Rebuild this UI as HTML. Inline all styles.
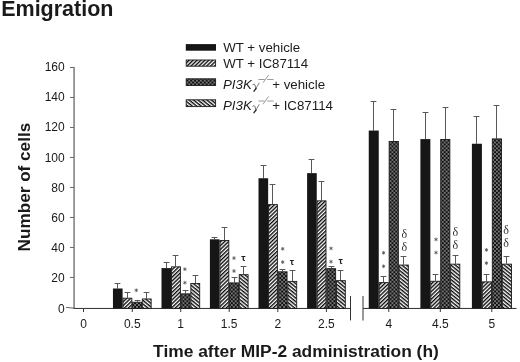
<!DOCTYPE html>
<html><head><meta charset="utf-8"><title>Emigration</title>
<style>
html,body{margin:0;padding:0;background:#fff;}
body{width:520px;height:362px;overflow:hidden;font-family:"Liberation Sans",sans-serif;}
svg{display:block;will-change:transform}
text{font-family:"Liberation Sans",sans-serif;fill:#1a1a1a}
.tk{font-size:12px;fill:#1a1a1a}
.lg{font-size:13.3px;fill:#1c1c1c}
.st{font-size:9px;fill:#666;text-anchor:middle}
.dl{font-family:"Liberation Serif",serif;font-size:12px;fill:#333;text-anchor:middle}
.ta{font-size:9.6px;font-weight:bold;fill:#222;text-anchor:middle}
</style></head><body>
<svg width="520" height="362" viewBox="0 0 520 362">
<defs>
<pattern id="h2" width="2.72" height="2.72" patternUnits="userSpaceOnUse" patternTransform="rotate(-44)">
<rect width="2.72" height="2.72" fill="#fff"/><rect y="0" width="2.72" height="1.38" fill="#080808"/></pattern>
<pattern id="h4" width="2.8" height="2.8" patternUnits="userSpaceOnUse" patternTransform="rotate(39)">
<rect width="2.8" height="2.8" fill="#fff"/><rect y="0" width="2.8" height="1.4" fill="#080808"/></pattern>
<pattern id="h3" width="3.87" height="3.87" patternUnits="userSpaceOnUse" x="0.6" y="0.3">
<rect width="3.87" height="3.87" fill="#101010"/><rect x="0" y="0" width="1.93" height="1.93" fill="#747474"/><rect x="1.935" y="1.935" width="1.935" height="1.935" fill="#747474"/></pattern>
<g id="as" stroke="#555" stroke-width="0.85" stroke-linecap="round"><path d="M0-1.45V1.45M-1.25-0.72L1.25 0.72M-1.25 0.72L1.25-0.72"/></g>
</defs>
<rect width="520" height="362" fill="#fff"/>

<text x="1.2" y="15.7" font-size="21.5px" font-weight="bold" fill="#111">Emigration</text>
<text transform="translate(30.4,251.4) rotate(-90)" font-size="17.15px" font-weight="bold" fill="#111">Number of cells</text>
<text x="153.1" y="356.8" font-size="17.4px" font-weight="bold" fill="#111">Time after MIP-2 administration (h)</text>
<line x1="74.05" y1="67" x2="74.05" y2="308.5" stroke="#3a3a3a" stroke-width="1"/>
<line x1="73.5" y1="308.45" x2="350.5" y2="308.45" stroke="#2e2e2e" stroke-width="1"/>
<line x1="66" y1="307.4" x2="75" y2="308.25" stroke="#555" stroke-width="0.9"/>
<line x1="363" y1="308.45" x2="516.5" y2="308.45" stroke="#2e2e2e" stroke-width="1"/>
<line x1="350.5" y1="296" x2="350.5" y2="320.4" stroke="#333" stroke-width="1"/>
<line x1="363" y1="296" x2="363" y2="320.4" stroke="#444" stroke-width="1.1"/>
<text class="tk" x="64.7" y="312.50" text-anchor="end">0</text>
<line x1="70" y1="277.45" x2="74" y2="277.45" stroke="#666" stroke-width="1"/>
<text class="tk" x="64.7" y="282.30" text-anchor="end">20</text>
<line x1="70" y1="247.45" x2="74" y2="247.45" stroke="#666" stroke-width="1"/>
<text class="tk" x="64.7" y="252.10" text-anchor="end">40</text>
<line x1="70" y1="217.45" x2="74" y2="217.45" stroke="#666" stroke-width="1"/>
<text class="tk" x="64.7" y="221.90" text-anchor="end">60</text>
<line x1="70" y1="187.45" x2="74" y2="187.45" stroke="#666" stroke-width="1"/>
<text class="tk" x="64.7" y="191.70" text-anchor="end">80</text>
<line x1="70" y1="157.45" x2="74" y2="157.45" stroke="#666" stroke-width="1"/>
<text class="tk" x="64.7" y="161.50" text-anchor="end">100</text>
<line x1="70" y1="127.45" x2="74" y2="127.45" stroke="#666" stroke-width="1"/>
<text class="tk" x="64.7" y="131.30" text-anchor="end">120</text>
<line x1="70" y1="97.45" x2="74" y2="97.45" stroke="#666" stroke-width="1"/>
<text class="tk" x="64.7" y="101.10" text-anchor="end">140</text>
<line x1="70" y1="67.45" x2="74" y2="67.45" stroke="#666" stroke-width="1"/>
<text class="tk" x="64.7" y="70.90" text-anchor="end">160</text>
<line x1="83.5" y1="308" x2="83.5" y2="312" stroke="#3a3a3a" stroke-width="1"/>
<text class="tk" x="83.5" y="328.2" text-anchor="middle">0</text>
<line x1="132.25" y1="308" x2="132.25" y2="312" stroke="#3a3a3a" stroke-width="1"/>
<text class="tk" x="132.25" y="328.2" text-anchor="middle">0.5</text>
<line x1="180.7" y1="308" x2="180.7" y2="312" stroke="#3a3a3a" stroke-width="1"/>
<text class="tk" x="180.7" y="328.2" text-anchor="middle">1</text>
<line x1="229.2" y1="308" x2="229.2" y2="312" stroke="#3a3a3a" stroke-width="1"/>
<text class="tk" x="229.2" y="328.2" text-anchor="middle">1.5</text>
<line x1="277.8" y1="308" x2="277.8" y2="312" stroke="#3a3a3a" stroke-width="1"/>
<text class="tk" x="277.8" y="328.2" text-anchor="middle">2</text>
<line x1="326.4" y1="308" x2="326.4" y2="312" stroke="#3a3a3a" stroke-width="1"/>
<text class="tk" x="326.4" y="328.2" text-anchor="middle">2.5</text>
<line x1="388.8" y1="308" x2="388.8" y2="312" stroke="#3a3a3a" stroke-width="1"/>
<text class="tk" x="388.8" y="328.2" text-anchor="middle">4</text>
<line x1="440.3" y1="308" x2="440.3" y2="312" stroke="#3a3a3a" stroke-width="1"/>
<text class="tk" x="440.3" y="328.2" text-anchor="middle">4.5</text>
<line x1="491.8" y1="308" x2="491.8" y2="312" stroke="#3a3a3a" stroke-width="1"/>
<text class="tk" x="491.8" y="328.2" text-anchor="middle">5</text>
<path d="M117.50 288.50V283.50M114.60 283.50H120.40" stroke="#585858" stroke-width="1" fill="none"/>
<rect x="112.95" y="288.50" width="9.65" height="20.00" fill="#161616"/>
<path d="M127.50 297.80V292.50M124.60 292.50H130.40" stroke="#585858" stroke-width="1" fill="none"/>
<rect x="123.00" y="298.20" width="8.85" height="10.20" fill="url(#h2)" stroke="#1a1a1a" stroke-width="0.9"/>
<path d="M137.50 301.85V300.50M134.60 300.50H140.40" stroke="#585858" stroke-width="1" fill="none"/>
<rect x="132.65" y="302.25" width="8.85" height="6.15" fill="url(#h3)" stroke="#1a1a1a" stroke-width="0.9"/>
<path d="M146.50 298.55V292.50M143.60 292.50H149.40" stroke="#585858" stroke-width="1" fill="none"/>
<rect x="142.30" y="298.95" width="8.85" height="9.45" fill="url(#h4)" stroke="#1a1a1a" stroke-width="0.9"/>
<path d="M166.50 268.10V262.50M163.60 262.50H169.40" stroke="#585858" stroke-width="1" fill="none"/>
<rect x="161.50" y="268.10" width="9.65" height="40.40" fill="#161616"/>
<path d="M175.50 266.45V255.50M172.60 255.50H178.40" stroke="#585858" stroke-width="1" fill="none"/>
<rect x="171.55" y="266.85" width="8.85" height="41.55" fill="url(#h2)" stroke="#1a1a1a" stroke-width="0.9"/>
<path d="M185.50 293.45V290.50M182.60 290.50H188.40" stroke="#585858" stroke-width="1" fill="none"/>
<rect x="181.20" y="293.85" width="8.85" height="14.55" fill="url(#h3)" stroke="#1a1a1a" stroke-width="0.9"/>
<path d="M195.50 283.10V275.50M192.60 275.50H198.40" stroke="#585858" stroke-width="1" fill="none"/>
<rect x="190.85" y="283.50" width="8.85" height="24.90" fill="url(#h4)" stroke="#1a1a1a" stroke-width="0.9"/>
<path d="M214.50 239.30V237.50M211.60 237.50H217.40" stroke="#585858" stroke-width="1" fill="none"/>
<rect x="209.90" y="239.30" width="9.65" height="69.20" fill="#161616"/>
<path d="M224.50 240.05V227.50M221.60 227.50H227.40" stroke="#585858" stroke-width="1" fill="none"/>
<rect x="219.95" y="240.45" width="8.85" height="67.95" fill="url(#h2)" stroke="#1a1a1a" stroke-width="0.9"/>
<path d="M234.50 282.50V277.50M231.60 277.50H237.40" stroke="#585858" stroke-width="1" fill="none"/>
<rect x="229.60" y="282.90" width="8.85" height="25.50" fill="url(#h3)" stroke="#1a1a1a" stroke-width="0.9"/>
<path d="M243.50 274.25V266.50M240.60 266.50H246.40" stroke="#585858" stroke-width="1" fill="none"/>
<rect x="239.25" y="274.65" width="8.85" height="33.75" fill="url(#h4)" stroke="#1a1a1a" stroke-width="0.9"/>
<path d="M263.50 178.25V165.50M260.60 165.50H266.40" stroke="#585858" stroke-width="1" fill="none"/>
<rect x="258.50" y="178.25" width="9.65" height="130.25" fill="#161616"/>
<path d="M272.50 204.20V184.50M269.60 184.50H275.40" stroke="#585858" stroke-width="1" fill="none"/>
<rect x="268.55" y="204.60" width="8.85" height="103.80" fill="url(#h2)" stroke="#1a1a1a" stroke-width="0.9"/>
<path d="M282.50 271.40V269.50M279.60 269.50H285.40" stroke="#585858" stroke-width="1" fill="none"/>
<rect x="278.20" y="271.80" width="8.85" height="36.60" fill="url(#h3)" stroke="#1a1a1a" stroke-width="0.9"/>
<path d="M292.50 281.00V270.50M289.60 270.50H295.40" stroke="#585858" stroke-width="1" fill="none"/>
<rect x="287.85" y="281.40" width="8.85" height="27.00" fill="url(#h4)" stroke="#1a1a1a" stroke-width="0.9"/>
<path d="M311.50 173.15V159.50M308.60 159.50H314.40" stroke="#585858" stroke-width="1" fill="none"/>
<rect x="307.10" y="173.15" width="9.65" height="135.35" fill="#161616"/>
<path d="M321.50 200.45V181.50M318.60 181.50H324.40" stroke="#585858" stroke-width="1" fill="none"/>
<rect x="317.15" y="200.85" width="8.85" height="107.55" fill="url(#h2)" stroke="#1a1a1a" stroke-width="0.9"/>
<path d="M331.50 268.25V266.50M328.60 266.50H334.40" stroke="#585858" stroke-width="1" fill="none"/>
<rect x="326.80" y="268.65" width="8.85" height="39.75" fill="url(#h3)" stroke="#1a1a1a" stroke-width="0.9"/>
<path d="M340.50 280.25V270.50M337.60 270.50H343.40" stroke="#585858" stroke-width="1" fill="none"/>
<rect x="336.45" y="280.65" width="8.85" height="27.75" fill="url(#h4)" stroke="#1a1a1a" stroke-width="0.9"/>
<path d="M373.50 130.55V101.50M370.60 101.50H376.40" stroke="#585858" stroke-width="1" fill="none"/>
<rect x="368.75" y="130.55" width="10.00" height="177.95" fill="#161616"/>
<path d="M383.50 282.20V276.50M380.60 276.50H386.40" stroke="#585858" stroke-width="1" fill="none"/>
<rect x="379.15" y="282.60" width="9.20" height="25.80" fill="url(#h2)" stroke="#1a1a1a" stroke-width="0.9"/>
<path d="M393.50 141.05V109.50M390.60 109.50H396.40" stroke="#585858" stroke-width="1" fill="none"/>
<rect x="389.15" y="141.45" width="9.20" height="166.95" fill="url(#h3)" stroke="#1a1a1a" stroke-width="0.9"/>
<path d="M403.50 264.65V256.50M400.60 256.50H406.40" stroke="#585858" stroke-width="1" fill="none"/>
<rect x="399.15" y="265.05" width="9.20" height="43.35" fill="url(#h4)" stroke="#1a1a1a" stroke-width="0.9"/>
<path d="M425.50 139.10V112.50M422.60 112.50H428.40" stroke="#585858" stroke-width="1" fill="none"/>
<rect x="420.40" y="139.10" width="9.95" height="169.40" fill="#161616"/>
<path d="M435.50 280.85V274.50M432.60 274.50H438.40" stroke="#585858" stroke-width="1" fill="none"/>
<rect x="430.75" y="281.25" width="9.15" height="27.15" fill="url(#h2)" stroke="#1a1a1a" stroke-width="0.9"/>
<path d="M445.50 139.10V107.50M442.60 107.50H448.40" stroke="#585858" stroke-width="1" fill="none"/>
<rect x="440.70" y="139.50" width="9.15" height="168.90" fill="url(#h3)" stroke="#1a1a1a" stroke-width="0.9"/>
<path d="M455.50 263.75V255.50M452.60 255.50H458.40" stroke="#585858" stroke-width="1" fill="none"/>
<rect x="450.65" y="264.15" width="9.15" height="44.25" fill="url(#h4)" stroke="#1a1a1a" stroke-width="0.9"/>
<path d="M476.50 143.75V116.50M473.60 116.50H479.40" stroke="#585858" stroke-width="1" fill="none"/>
<rect x="471.90" y="143.75" width="10.00" height="164.75" fill="#161616"/>
<path d="M486.50 281.45V274.50M483.60 274.50H489.40" stroke="#585858" stroke-width="1" fill="none"/>
<rect x="482.30" y="281.85" width="9.20" height="26.55" fill="url(#h2)" stroke="#1a1a1a" stroke-width="0.9"/>
<path d="M496.50 138.50V105.50M493.60 105.50H499.40" stroke="#585858" stroke-width="1" fill="none"/>
<rect x="492.30" y="138.90" width="9.20" height="169.50" fill="url(#h3)" stroke="#1a1a1a" stroke-width="0.9"/>
<path d="M506.50 263.75V256.50M503.60 256.50H509.40" stroke="#585858" stroke-width="1" fill="none"/>
<rect x="502.30" y="264.15" width="9.20" height="44.25" fill="url(#h4)" stroke="#1a1a1a" stroke-width="0.9"/>
<use href="#as" x="136.3" y="290.3"/>
<use href="#as" x="184.9" y="269.2"/>
<use href="#as" x="184.9" y="282.7"/>
<use href="#as" x="234" y="258.1"/>
<use href="#as" x="234" y="271"/>
<use href="#as" x="282.7" y="248.8"/>
<use href="#as" x="282.7" y="262.1"/>
<use href="#as" x="331" y="248.4"/>
<use href="#as" x="331" y="261.7"/>
<use href="#as" x="383.6" y="252.8"/>
<use href="#as" x="383.6" y="266.3"/>
<use href="#as" x="436" y="239.4"/>
<use href="#as" x="436" y="252.6"/>
<use href="#as" x="486.4" y="249.9"/>
<use href="#as" x="486.4" y="263.1"/>
<text class="ta" x="243.3" y="260.6">&#964;</text>
<text class="ta" x="292" y="264.6">&#964;</text>
<text class="ta" x="340.7" y="264.3">&#964;</text>
<text class="dl" x="404.3" y="237.5">&#948;</text>
<text class="dl" x="404.3" y="250.5">&#948;</text>
<text class="dl" x="455.4" y="236.2">&#948;</text>
<text class="dl" x="455.4" y="248.8">&#948;</text>
<text class="dl" x="506" y="234.0">&#948;</text>
<text class="dl" x="506" y="246.6">&#948;</text>
<rect x="185.8" y="44.1" width="30.2" height="6.6" fill="#161616"/>
<rect x="186.2" y="60.0" width="29.4" height="6.2" fill="url(#h2)" stroke="#1a1a1a" stroke-width="0.9"/>
<rect x="186.2" y="78.80000000000001" width="29.4" height="6.7" fill="url(#h3)" stroke="#1a1a1a" stroke-width="0.9"/>
<rect x="186.2" y="99.80000000000001" width="29.4" height="6.8" fill="url(#h4)" stroke="#1a1a1a" stroke-width="0.9"/>
<text class="lg" x="223.2" y="51.5">WT + vehicle</text>
<text class="lg" x="223.2" y="67.7">WT + IC87114</text>
<text class="lg" x="223" y="88.9" font-style="italic">PI3K</text>
<g transform="translate(0,0.0)" fill="none" stroke-linecap="round"><path d="M252.9 84.6q1.5-1.6 2.1 0.6l0.95 3.6" stroke="#444" stroke-width="0.75"/><path d="M259.1 83.1L255.9 88.6" stroke="#444" stroke-width="0.7"/><path d="M255.9 88.6L254 91.2" stroke="#222" stroke-width="1.3"/><path d="M258.8 79.5H264.3M267.6 79.5H273.2M263.3 82.4L268.5 75.2" stroke="#7a7a7a" stroke-width="0.75"/></g>
<text class="lg" x="272.2" y="88.9">+ vehicle</text>
<text class="lg" x="223" y="110.4" font-style="italic">PI3K</text>
<g transform="translate(0,21.5)" fill="none" stroke-linecap="round"><path d="M252.9 84.6q1.5-1.6 2.1 0.6l0.95 3.6" stroke="#444" stroke-width="0.75"/><path d="M259.1 83.1L255.9 88.6" stroke="#444" stroke-width="0.7"/><path d="M255.9 88.6L254 91.2" stroke="#222" stroke-width="1.3"/><path d="M258.8 79.5H264.3M267.6 79.5H273.2M263.3 82.4L268.5 75.2" stroke="#7a7a7a" stroke-width="0.75"/></g>
<text class="lg" x="272.2" y="110.4">+ IC87114</text>
</svg></body></html>
